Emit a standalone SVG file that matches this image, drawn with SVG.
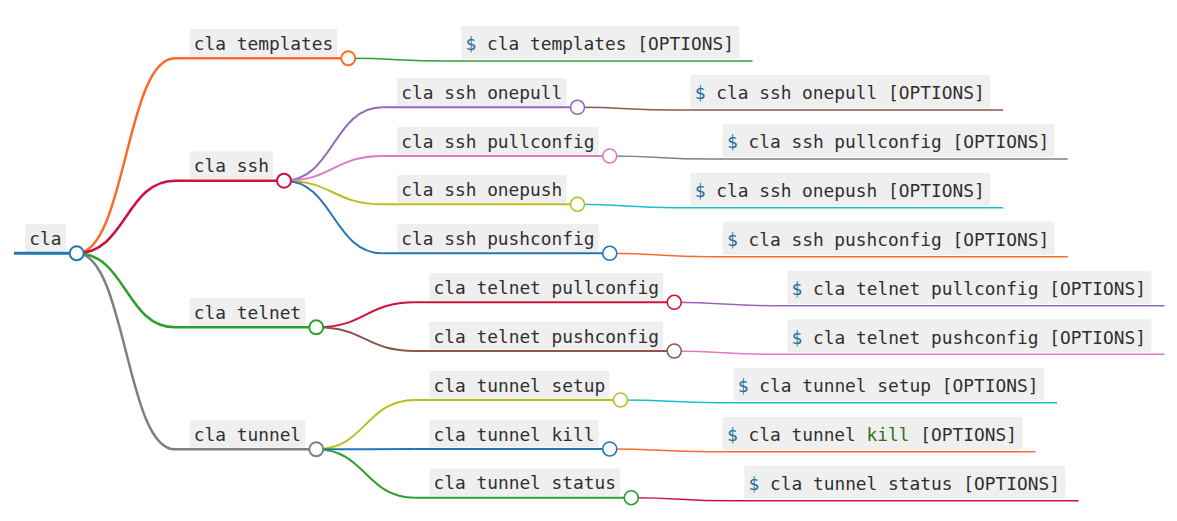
<svg xmlns="http://www.w3.org/2000/svg" width="1177" height="521" viewBox="0 0 1177 521">
<style>
text{font-family:"DejaVu Sans Mono","Liberation Mono",monospace;font-size:17.85px;fill:#2f2f2f}
.box{fill:#efefef}
.p{fill:#22709a}
.k{fill:#2f6f1f}
circle{fill:#fff;stroke-width:1.6}
circle.c1{stroke-width:2}
path,line{fill:none}
.d0{stroke-width:3}.d1{stroke-width:2.5}.d2{stroke-width:2}.d3{stroke-width:1.5}
</style>
<g id="connectors">
<path class="d1" stroke="#fb6a2c" d="M76.7,253.3C125.85,253.3 125.85,58.3 175,58.3"/>
<path class="d1" stroke="#d0103a" d="M76.7,253.3C125.85,253.3 125.85,180.7 175,180.7"/>
<path class="d1" stroke="#2ca02c" d="M76.7,253.3C125.85,253.3 125.85,327.3 175,327.3"/>
<path class="d1" stroke="#7f7f7f" d="M76.7,253.3C125.85,253.3 125.85,449.3 175,449.3"/>
<path class="d2" stroke="#9467bd" d="M284,180.7C333.25,180.7 333.25,107.3 382.5,107.3"/>
<path class="d2" stroke="#e377c2" d="M284,180.7C333.25,180.7 333.25,156 382.5,156"/>
<path class="d2" stroke="#bcbd22" d="M284,180.7C333.25,180.7 333.25,204.3 382.5,204.3"/>
<path class="d2" stroke="#1f77b4" d="M284,180.7C333.25,180.7 333.25,253.3 382.5,253.3"/>
<path class="d2" stroke="#d0103a" d="M316.25,327.3C365.5,327.3 365.5,302.3 414.75,302.3"/>
<path class="d2" stroke="#8c564b" d="M316.25,327.3C365.5,327.3 365.5,351 414.75,351"/>
<path class="d2" stroke="#bcbd22" d="M316.25,449.3C365.5,449.3 365.5,400 414.75,400"/>
<path class="d2" stroke="#1f77b4" d="M316.25,449.3C365.5,449.3 365.5,449 414.75,449"/>
<path class="d2" stroke="#2ca02c" d="M316.25,449.3C365.5,449.3 365.5,497.7 414.75,497.7"/>
<path class="d3" stroke="#2ca02c" d="M348.25,58.3C397.5,58.3 397.5,61 446.75,61"/>
<path class="d3" stroke="#8c564b" d="M577.5,107.3C626.75,107.3 626.75,110 676,110"/>
<path class="d3" stroke="#7f7f7f" d="M609.75,156C659,156 659,159 708.25,159"/>
<path class="d3" stroke="#17becf" d="M577.5,204.3C626.75,204.3 626.75,207.7 676,207.7"/>
<path class="d3" stroke="#fb6a2c" d="M609.75,253.3C659,253.3 659,256.7 708.25,256.7"/>
<path class="d3" stroke="#9467bd" d="M674.25,302.3C723.5,302.3 723.5,305.7 772.75,305.7"/>
<path class="d3" stroke="#e377c2" d="M674.25,351C723.5,351 723.5,354.3 772.75,354.3"/>
<path class="d3" stroke="#17becf" d="M620.5,400C669.75,400 669.75,402.7 719,402.7"/>
<path class="d3" stroke="#fb6a2c" d="M609.75,449C659,449 659,451.7 708.25,451.7"/>
<path class="d3" stroke="#d0103a" d="M631.25,497.7C680.5,497.7 680.5,500.7 729.75,500.7"/>
</g>
<g id="n-cla">
<rect class="box" x="25" y="224" width="41" height="27.7" rx="2"/>
<line class="d0" stroke="#1f77b4" x1="14" y1="253.3" x2="76.7" y2="253.3"/>
<circle class="c1" cx="76.7" cy="253.3" r="7" stroke="#1f77b4"/>
<text x="29.2" y="245">cla</text>
</g>
<g id="n-templates">
<rect class="box" x="189.5" y="29" width="147.75" height="27.7" rx="2"/>
<line class="d1" stroke="#fb6a2c" x1="175" y1="58.3" x2="348.25" y2="58.3"/>
<circle class="c1" cx="348.25" cy="58.3" r="7" stroke="#fb6a2c"/>
<text x="193.7" y="50">cla templates</text>
</g>
<g id="n-ssh">
<rect class="box" x="189.5" y="151.4" width="83.5" height="27.7" rx="2"/>
<line class="d1" stroke="#d0103a" x1="175" y1="180.7" x2="284" y2="180.7"/>
<circle class="c1" cx="284" cy="180.7" r="7" stroke="#d0103a"/>
<text x="193.7" y="172.4">cla ssh</text>
</g>
<g id="n-telnet">
<rect class="box" x="189.5" y="298" width="115.75" height="27.7" rx="2"/>
<line class="d1" stroke="#2ca02c" x1="175" y1="327.3" x2="316.25" y2="327.3"/>
<circle class="c1" cx="316.25" cy="327.3" r="7" stroke="#2ca02c"/>
<text x="193.7" y="319">cla telnet</text>
</g>
<g id="n-tunnel">
<rect class="box" x="189.5" y="420" width="115.75" height="27.7" rx="2"/>
<line class="d1" stroke="#7f7f7f" x1="175" y1="449.3" x2="316.25" y2="449.3"/>
<circle class="c1" cx="316.25" cy="449.3" r="7" stroke="#7f7f7f"/>
<text x="193.7" y="441">cla tunnel</text>
</g>
<g id="n-ssh-onepull">
<rect class="box" x="397" y="78" width="169.5" height="27.7" rx="2"/>
<line class="d2" stroke="#9467bd" x1="382.5" y1="107.3" x2="577.5" y2="107.3"/>
<circle cx="577.5" cy="107.3" r="7" stroke="#9467bd"/>
<text x="401.2" y="99">cla ssh onepull</text>
</g>
<g id="n-ssh-pullconfig">
<rect class="box" x="397" y="126.7" width="201.75" height="27.7" rx="2"/>
<line class="d2" stroke="#e377c2" x1="382.5" y1="156" x2="609.75" y2="156"/>
<circle cx="609.75" cy="156" r="7" stroke="#e377c2"/>
<text x="401.2" y="147.7">cla ssh pullconfig</text>
</g>
<g id="n-ssh-onepush">
<rect class="box" x="397" y="175" width="169.5" height="27.7" rx="2"/>
<line class="d2" stroke="#bcbd22" x1="382.5" y1="204.3" x2="577.5" y2="204.3"/>
<circle cx="577.5" cy="204.3" r="7" stroke="#bcbd22"/>
<text x="401.2" y="196">cla ssh onepush</text>
</g>
<g id="n-ssh-pushconfig">
<rect class="box" x="397" y="224" width="201.75" height="27.7" rx="2"/>
<line class="d2" stroke="#1f77b4" x1="382.5" y1="253.3" x2="609.75" y2="253.3"/>
<circle cx="609.75" cy="253.3" r="7" stroke="#1f77b4"/>
<text x="401.2" y="245">cla ssh pushconfig</text>
</g>
<g id="n-telnet-pullconfig">
<rect class="box" x="429.25" y="273" width="234" height="27.7" rx="2"/>
<line class="d2" stroke="#d0103a" x1="414.75" y1="302.3" x2="674.25" y2="302.3"/>
<circle cx="674.25" cy="302.3" r="7" stroke="#d0103a"/>
<text x="433.45" y="294">cla telnet pullconfig</text>
</g>
<g id="n-telnet-pushconfig">
<rect class="box" x="429.25" y="321.7" width="234" height="27.7" rx="2"/>
<line class="d2" stroke="#8c564b" x1="414.75" y1="351" x2="674.25" y2="351"/>
<circle cx="674.25" cy="351" r="7" stroke="#8c564b"/>
<text x="433.45" y="342.7">cla telnet pushconfig</text>
</g>
<g id="n-tunnel-setup">
<rect class="box" x="429.25" y="370.7" width="180.25" height="27.7" rx="2"/>
<line class="d2" stroke="#bcbd22" x1="414.75" y1="400" x2="620.5" y2="400"/>
<circle cx="620.5" cy="400" r="7" stroke="#bcbd22"/>
<text x="433.45" y="391.7">cla tunnel setup</text>
</g>
<g id="n-tunnel-kill">
<rect class="box" x="429.25" y="419.7" width="169.5" height="27.7" rx="2"/>
<line class="d2" stroke="#1f77b4" x1="414.75" y1="449" x2="609.75" y2="449"/>
<circle cx="609.75" cy="449" r="7" stroke="#1f77b4"/>
<text x="433.45" y="440.7">cla tunnel kill</text>
</g>
<g id="n-tunnel-status">
<rect class="box" x="429.25" y="468.4" width="191" height="27.7" rx="2"/>
<line class="d2" stroke="#2ca02c" x1="414.75" y1="497.7" x2="631.25" y2="497.7"/>
<circle cx="631.25" cy="497.7" r="7" stroke="#2ca02c"/>
<text x="433.45" y="489.4">cla tunnel status</text>
</g>
<g id="l-templates">
<rect class="box" x="461.25" y="26" width="278.25" height="33" rx="2"/>
<line class="d3" stroke="#2ca02c" x1="446.75" y1="61" x2="752.5" y2="61"/>
<text x="465.45" y="50.4"><tspan class="p">$</tspan> cla templates [OPTIONS]</text>
</g>
<g id="l-ssh-onepull">
<rect class="box" x="690.5" y="75" width="299.75" height="33" rx="2"/>
<line class="d3" stroke="#8c564b" x1="676" y1="110" x2="1003.25" y2="110"/>
<text x="694.7" y="99.4"><tspan class="p">$</tspan> cla ssh onepull [OPTIONS]</text>
</g>
<g id="l-ssh-pullconfig">
<rect class="box" x="722.75" y="124" width="332" height="33" rx="2"/>
<line class="d3" stroke="#7f7f7f" x1="708.25" y1="159" x2="1067.75" y2="159"/>
<text x="726.95" y="148.4"><tspan class="p">$</tspan> cla ssh pullconfig [OPTIONS]</text>
</g>
<g id="l-ssh-onepush">
<rect class="box" x="690.5" y="172.7" width="299.75" height="33" rx="2"/>
<line class="d3" stroke="#17becf" x1="676" y1="207.7" x2="1003.25" y2="207.7"/>
<text x="694.7" y="197.1"><tspan class="p">$</tspan> cla ssh onepush [OPTIONS]</text>
</g>
<g id="l-ssh-pushconfig">
<rect class="box" x="722.75" y="221.7" width="332" height="33" rx="2"/>
<line class="d3" stroke="#fb6a2c" x1="708.25" y1="256.7" x2="1067.75" y2="256.7"/>
<text x="726.95" y="246.1"><tspan class="p">$</tspan> cla ssh pushconfig [OPTIONS]</text>
</g>
<g id="l-telnet-pullconfig">
<rect class="box" x="787.25" y="270.7" width="364.25" height="33" rx="2"/>
<line class="d3" stroke="#9467bd" x1="772.75" y1="305.7" x2="1164.5" y2="305.7"/>
<text x="791.45" y="295.1"><tspan class="p">$</tspan> cla telnet pullconfig [OPTIONS]</text>
</g>
<g id="l-telnet-pushconfig">
<rect class="box" x="787.25" y="319.3" width="364.25" height="33" rx="2"/>
<line class="d3" stroke="#e377c2" x1="772.75" y1="354.3" x2="1164.5" y2="354.3"/>
<text x="791.45" y="343.7"><tspan class="p">$</tspan> cla telnet pushconfig [OPTIONS]</text>
</g>
<g id="l-tunnel-setup">
<rect class="box" x="733.5" y="367.7" width="310.5" height="33" rx="2"/>
<line class="d3" stroke="#17becf" x1="719" y1="402.7" x2="1057" y2="402.7"/>
<text x="737.7" y="392.1"><tspan class="p">$</tspan> cla tunnel setup [OPTIONS]</text>
</g>
<g id="l-tunnel-kill">
<rect class="box" x="722.75" y="416.7" width="299.75" height="33" rx="2"/>
<line class="d3" stroke="#fb6a2c" x1="708.25" y1="451.7" x2="1035.5" y2="451.7"/>
<text x="726.95" y="441.1"><tspan class="p">$</tspan> cla tunnel <tspan class="k">kill</tspan> [OPTIONS]</text>
</g>
<g id="l-tunnel-status">
<rect class="box" x="744.25" y="465.7" width="321.25" height="33" rx="2"/>
<line class="d3" stroke="#d0103a" x1="729.75" y1="500.7" x2="1078.5" y2="500.7"/>
<text x="748.45" y="490.1"><tspan class="p">$</tspan> cla tunnel status [OPTIONS]</text>
</g>
</svg>
